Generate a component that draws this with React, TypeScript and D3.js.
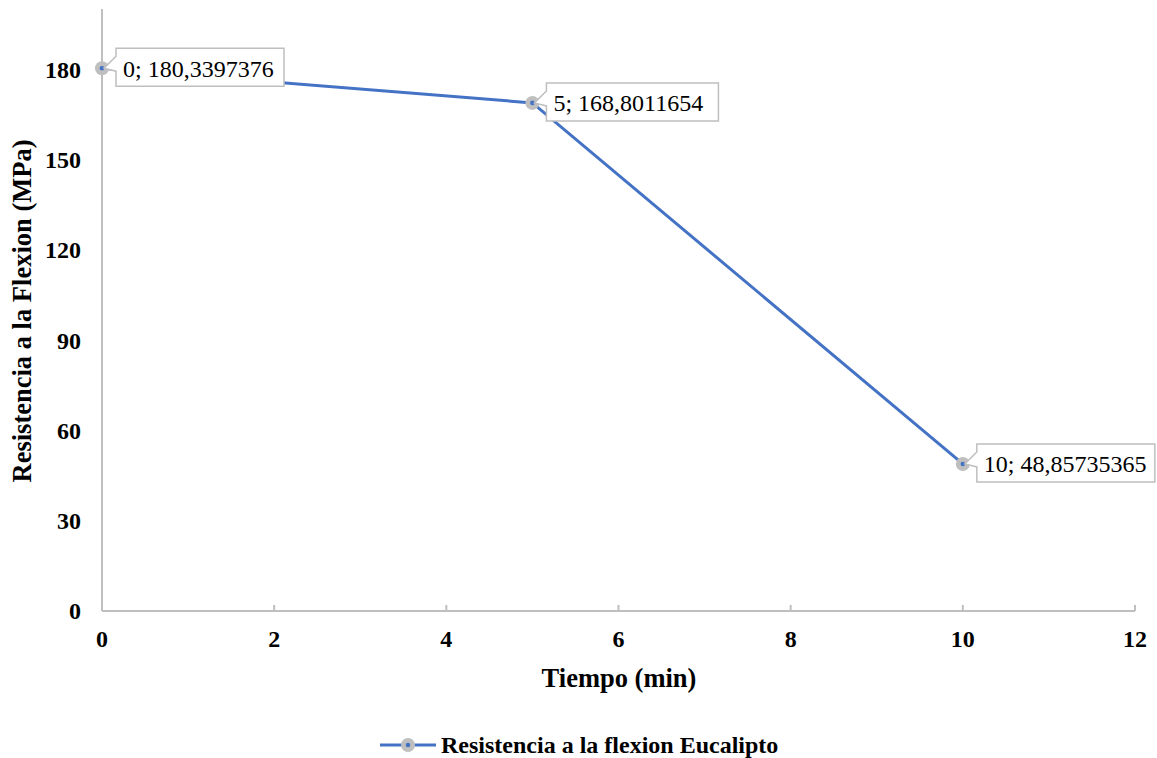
import * as d3 from 'd3'

const tiempo = [0, 5, 10]
const resistencia = [180.3397376, 168.8011654, 48.85735365]
const etiquetas = ['0; 180,3397376', '5; 168,8011654', '10; 48,85735365']
const xTicks = [0, 2, 4, 6, 8, 10, 12]
const yTicks = [0, 30, 60, 90, 120, 150, 180]
const serieNombre = 'Resistencia a la flexion Eucalipto'

const W = 1157
const H = 758
const FONT = "'Liberation Serif', 'Times New Roman', Tinos, 'DejaVu Serif', serif"
const BLUE = '#4472C4'
const GRID = '#bfbfbf'

export default function App() {
    const x = d3.scaleLinear().domain([0, 12]).range([102, 1135])
    const y = d3.scaleLinear().domain([0, 200]).range([611, 9])

    const line = d3
        .line<number>()
        .x((_, i) => x(tiempo[i]))
        .y((d) => y(d))

    const labelW = [168, 172, 178]
    const txt = { fontFamily: FONT, fill: '#000' }

    return (
        <svg
            width={W}
            height={H}
            style={{ position: 'absolute', left: 0, top: 0, background: 'white', fontFamily: FONT }}
        >
            {/* axes */}
            <line x1={x(0)} x2={x(0)} y1={y(200)} y2={y(0)} stroke={GRID} strokeWidth={2} />
            <line x1={x(0)} x2={x(12)} y1={y(0)} y2={y(0)} stroke={GRID} strokeWidth={2} />
            {xTicks.map((t) => (
                <g key={t}>
                    <line x1={x(t)} x2={x(t)} y1={y(0)} y2={y(0) - 6} stroke={GRID} strokeWidth={2} />
                    <text
                        x={x(t)}
                        y={y(0) + 28}
                        dy="0.35em"
                        textAnchor="middle"
                        style={{ ...txt, fontSize: 24, fontWeight: 'bold' }}
                    >
                        {t}
                    </text>
                </g>
            ))}
            {yTicks.map((t) => (
                <text
                    key={t}
                    x={81}
                    y={y(t)}
                    dy="0.35em"
                    textAnchor="end"
                    style={{ ...txt, fontSize: 24, fontWeight: 'bold' }}
                >
                    {t}
                </text>
            ))}

            <text x={619} y={678} dy="0.35em" textAnchor="middle" style={{ ...txt, fontSize: 26.5, fontWeight: 'bold' }}>
                Tiempo (min)
            </text>
            <text
                transform="translate(22,311) rotate(-90)"
                dy="0.35em"
                textAnchor="middle"
                style={{ ...txt, fontSize: 26.5, fontWeight: 'bold' }}
            >
                Resistencia a la Flexion (MPa)
            </text>

            {/* series */}
            <path d={line(resistencia) ?? ''} fill="none" stroke={BLUE} strokeWidth={3} />
            {resistencia.map((v, i) => (
                <g key={i}>
                    <circle cx={x(tiempo[i])} cy={y(v)} r={7} fill={GRID} />
                    <circle cx={x(tiempo[i])} cy={y(v)} r={2.3} fill={BLUE} />
                </g>
            ))}

            {/* data labels with callouts */}
            {resistencia.map((v, i) => {
                const px = x(tiempo[i])
                const py = y(v)
                const l = px + 14
                const r = l + labelW[i]
                const t = py - 20
                const b = py + 18
                const d = `M${l},${t} L${r},${t} L${r},${b} L${l},${b} L${l},${py + 3} L${px + 2},${py} L${l},${py - 12} Z`
                return (
                    <g key={i}>
                        <path d={d} fill="white" stroke={GRID} strokeWidth={1.5} />
                        <text x={l + 7} y={py} dy="0.35em" style={{ ...txt, fontSize: 24 }}>
                            {etiquetas[i]}
                        </text>
                    </g>
                )
            })}

            {/* legend */}
            <line x1={380} x2={436} y1={745} y2={745} stroke={BLUE} strokeWidth={3} />
            <circle cx={408} cy={745} r={7} fill={GRID} />
            <circle cx={408} cy={745} r={2.3} fill={BLUE} />
            <text x={441} y={745} dy="0.35em" style={{ ...txt, fontSize: 24, fontWeight: 'bold' }}>
                {serieNombre}
            </text>
        </svg>
    )
}
